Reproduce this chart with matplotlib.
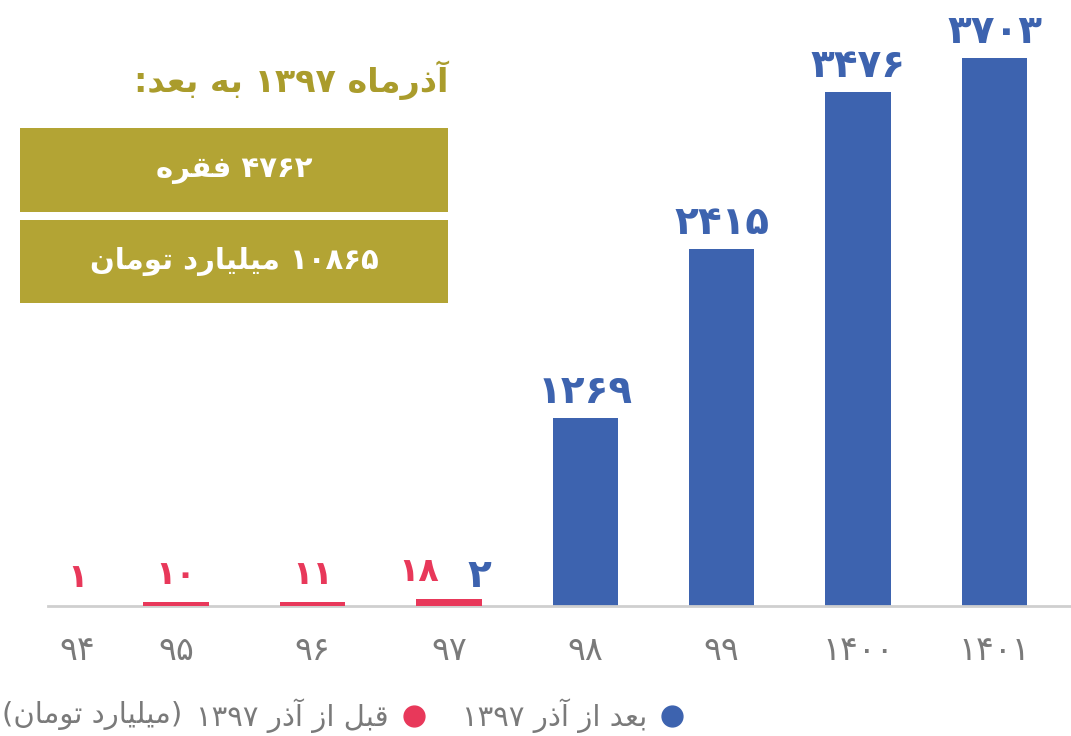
import re
import matplotlib
matplotlib.use("Agg")
import matplotlib.pyplot as plt
from matplotlib.patches import Rectangle
from matplotlib.lines import Line2D

# ---------------- data ----------------
years = ["94", "95", "96", "97", "98", "99", "1400", "1401"]
before_azar = [1, 10, 11, 18, 0, 0, 0, 0]          # red series (billion toman)
after_azar = [0, 0, 0, 2, 1269, 2415, 3476, 3703]  # blue series (billion toman)
title_text = "آذرماه 1397 به بعد:"
box_texts = ["4762 فقره", "10865 میلیارد تومان"]
unit_text = "(میلیارد تومان)"
legend_labels = ["قبل از آذر 1397", "بعد از آذر 1397"]

# ---------------- simple Persian shaping / bidi ----------------
FORMS = {
    "\u0627": ("\uFE8D", "\uFE8E", None, None),
    "\u0622": ("\uFE81", "\uFE82", None, None),
    "\u0628": ("\uFE8F", "\uFE90", "\uFE91", "\uFE92"),
    "\u062A": ("\uFE95", "\uFE96", "\uFE97", "\uFE98"),
    "\u062F": ("\uFEA9", "\uFEAA", None, None),
    "\u0630": ("\uFEAB", "\uFEAC", None, None),
    "\u0631": ("\uFEAD", "\uFEAE", None, None),
    "\u0632": ("\uFEAF", "\uFEB0", None, None),
    "\u0639": ("\uFEC9", "\uFECA", "\uFECB", "\uFECC"),
    "\u0641": ("\uFED1", "\uFED2", "\uFED3", "\uFED4"),
    "\u0642": ("\uFED5", "\uFED6", "\uFED7", "\uFED8"),
    "\u0644": ("\uFEDD", "\uFEDE", "\uFEDF", "\uFEE0"),
    "\u0645": ("\uFEE1", "\uFEE2", "\uFEE3", "\uFEE4"),
    "\u0646": ("\uFEE5", "\uFEE6", "\uFEE7", "\uFEE8"),
    "\u0647": ("\uFEE9", "\uFEEA", "\uFEEB", "\uFEEC"),
    "\u0648": ("\uFEED", "\uFEEE", None, None),
    "\u06CC": ("\uFEEF", "\uFEF0", "\uFEF3", "\uFEF4"),
}
MIRROR = {"(": ")", ")": "("}
FA_DIGITS = str.maketrans("0123456789", "۰۱۲۳۴۵۶۷۸۹")


def fa_num(n):
    return str(n).translate(FA_DIGITS)


def shape(s):
    out = []
    for i, c in enumerate(s):
        if c not in FORMS:
            out.append(c)
            continue
        prev = s[i - 1] if i > 0 else ""
        nxt = s[i + 1] if i + 1 < len(s) else ""
        pj = prev in FORMS and FORMS[prev][2] is not None
        nj = nxt in FORMS and FORMS[c][2] is not None
        iso, fin, ini, med = FORMS[c]
        if pj and nj:
            out.append(med)
        elif pj:
            out.append(fin)
        elif nj:
            out.append(ini)
        else:
            out.append(iso)
    return "".join(out)


def fa(s):
    s = shape(s.translate(FA_DIGITS))
    tokens = re.findall(r"[\u06F0-\u06F9]+|.", s, re.S)
    return "".join(MIRROR.get(t, t) for t in reversed(tokens))


# ---------------- figure ----------------
plt.rcParams["font.family"] = ["DejaVu Sans"]
BLUE = "#3d63af"
RED = "#e8385a"
OLIVE = "#b3a434"
OLIVE_T = "#aa9c2c"
GRAY = "#7a7a7a"

W, H = 1071, 736
fig = plt.figure(figsize=(W / 100, H / 100), dpi=100)
ax = fig.add_axes([48 / W, (H - 606) / H, 1 - 48 / W, 606 / H])
ax2 = ax.twinx()

xpos = [0.28, 1, 2, 3, 4, 5, 6, 7]
bw = 0.48

ax.bar(xpos, after_azar, width=bw, color=BLUE, zorder=2)
ax2.bar(xpos, before_azar, width=bw, color=RED, zorder=2)

ax.set_xlim(0.062, 7.56)
ax.set_ylim(0, 4095)
ax2.set_ylim(0, 1550)

for a in (ax, ax2):
    for sp in a.spines.values():
        sp.set_visible(False)
    a.set_yticks([])
ax.spines["bottom"].set_visible(True)
ax.spines["bottom"].set_color("#cfcfcf")
ax.spines["bottom"].set_linewidth(2)

ax.set_xticks(xpos)
ax.set_xticklabels([fa_num(y) for y in years], fontsize=24, color=GRAY)
ax.tick_params(axis="x", length=0, pad=20)

# value labels
for x, v, b in zip(xpos, before_azar, after_azar):
    if v > 0:
        dx = -22 if b > 0 else 0
        ax2.annotate(fa_num(v), xy=(x, v), xytext=(dx, 8), textcoords="offset points",
                     ha="center", va="bottom", fontsize=24, fontweight="bold", color=RED)
    if b > 0:
        dx = 22 if v > 0 else 0
        off = 8 if v > 0 else 5
        ax.annotate(fa_num(b), xy=(x, b), xytext=(dx, off), textcoords="offset points",
                    ha="center", va="bottom", fontsize=28, fontweight="bold", color=BLUE)

# title and boxes
fig.text(448 / W, 1 - 80 / H, fa(title_text), ha="right", va="center",
         fontsize=24, fontweight="bold", color=OLIVE_T)
boxes = [(128, 212), (220, 303)]
for (y0, y1), t in zip(boxes, box_texts):
    fig.patches.append(Rectangle((20 / W, 1 - y1 / H), 428 / W, (y1 - y0) / H,
                                 transform=fig.transFigure, facecolor=OLIVE,
                                 edgecolor="none"))
    fig.text(234 / W, 1 - (y0 + y1) / 2 / H, fa(t), ha="center", va="center",
             fontsize=21, fontweight="bold", color="white")

# legend row
ut = fig.text(2 / W, 1 - 716 / H, fa(unit_text), ha="left", va="center",
              fontsize=21, color=GRAY)
fig.canvas.draw()
ux1 = ut.get_window_extent().x1
handles = [
    Line2D([], [], linestyle="none", marker="o", markersize=15, color=RED),
    Line2D([], [], linestyle="none", marker="o", markersize=15, color=BLUE),
]
leg = fig.legend(handles, [fa(t) for t in legend_labels], ncol=2, markerfirst=False,
                 loc="center left", bbox_to_anchor=((ux1 + 14) / W, 1 - 716 / H),
                 frameon=False, fontsize=21, handlelength=0.9, handletextpad=0.4,
                 columnspacing=1.2, borderpad=0, borderaxespad=0)
for t in leg.get_texts():
    t.set_color(GRAY)

fig.savefig("out.png", dpi=100)
